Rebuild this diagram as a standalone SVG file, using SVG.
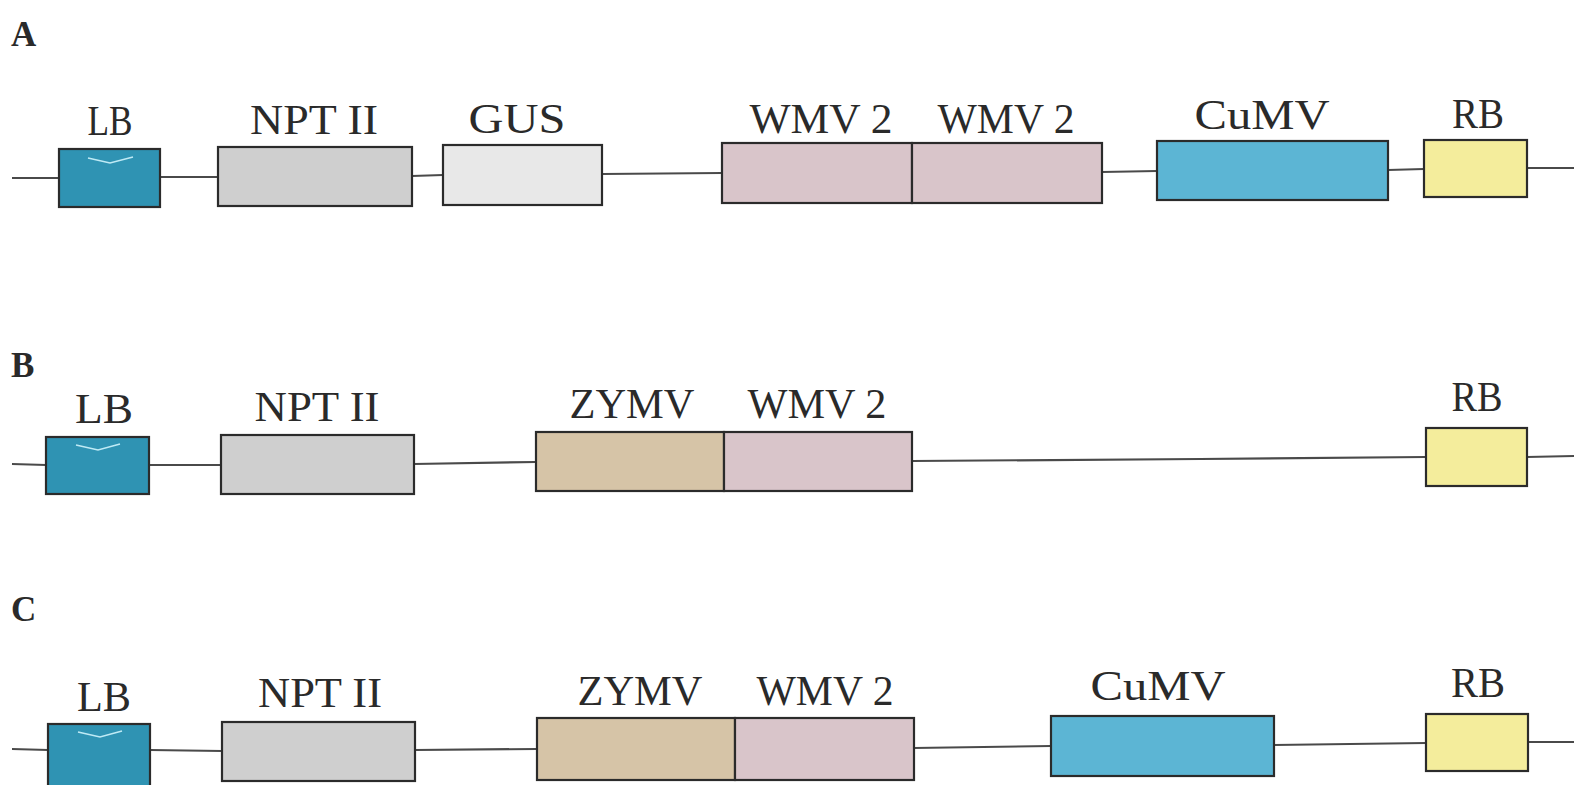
<svg xmlns="http://www.w3.org/2000/svg" width="1574" height="785" viewBox="0 0 1574 785">
<style>
.bg{fill:#ffffff}
.ln{fill:none;stroke:#4a4a4a;stroke-width:2.2}
.bx{stroke:#2b2b2b;stroke-width:2.2}
.lb{fill:#2f93b3}
.npt{fill:#cfcfcf}
.gus{fill:#e8e8e8}
.wmv{fill:#d9c5ca}
.zymv{fill:#d6c4a7}
.cumv{fill:#5cb5d4}
.rb{fill:#f4ed9c}
.mark{fill:none;stroke:#bfeaf5;stroke-width:1.6}
.t{font-family:"Liberation Serif","Times New Roman",serif;font-size:42px;fill:#2a2a2a;text-anchor:middle}
.h{font-family:"Liberation Serif","Times New Roman",serif;font-size:35px;font-weight:bold;fill:#2a2a2a}
</style>
<rect class="bg" x="0" y="0" width="1574" height="785"/>
<g id="connectors">
<polyline class="ln" points="12,178 59,178 160,177 218,177 412,176 443,175 602,174 722,173 1102,172 1157,171 1388,170 1424,169 1527,168 1574,168"/>
<polyline class="ln" points="12,464 46,465 149,465 221,465 414,464 536,462 912,461 1200,459 1426,457 1527,457 1574,456"/>
<polyline class="ln" points="12,749 48,750 150,750 222,751 415,750 537,749 914,748 1051,746 1274,745 1426,743 1528,742 1574,742"/>
</g>
<g id="label-A"><text class="h" x="11" y="46">A</text></g>
<g id="label-B"><text class="h" x="11" y="377">B</text></g>
<g id="label-C"><text class="h" x="11" y="621">C</text></g>
<g id="A-LB"><rect class="bx lb" x="59" y="149" width="101" height="58"/><path class="mark" d="M88,158 L110,163 L133,157"/><text class="t" x="110" y="135" textLength="45" lengthAdjust="spacingAndGlyphs">LB</text></g>
<g id="A-NPTII"><rect class="bx npt" x="218" y="147" width="194" height="59"/><text class="t" x="314" y="134" textLength="128" lengthAdjust="spacingAndGlyphs">NPT II</text></g>
<g id="A-GUS"><rect class="bx gus" x="443" y="145" width="159" height="60"/><text class="t" x="517" y="133" textLength="97" lengthAdjust="spacingAndGlyphs">GUS</text></g>
<g id="A-WMV2a"><rect class="bx wmv" x="722" y="143" width="190" height="60"/><text class="t" x="821" y="133" textLength="143" lengthAdjust="spacingAndGlyphs">WMV 2</text></g>
<g id="A-WMV2b"><rect class="bx wmv" x="912" y="143" width="190" height="60"/><text class="t" x="1006" y="133" textLength="137" lengthAdjust="spacingAndGlyphs">WMV 2</text></g>
<g id="A-CuMV"><rect class="bx cumv" x="1157" y="141" width="231" height="59"/><text class="t" x="1262" y="129" textLength="135" lengthAdjust="spacingAndGlyphs">CuMV</text></g>
<g id="A-RB"><rect class="bx rb" x="1424" y="140" width="103" height="57"/><text class="t" x="1478" y="128" textLength="52" lengthAdjust="spacingAndGlyphs">RB</text></g>

<g id="B-LB"><rect class="bx lb" x="46" y="437" width="103" height="57"/><path class="mark" d="M76,445 L98,450 L120,444"/><text class="t" x="104" y="423" textLength="58" lengthAdjust="spacingAndGlyphs">LB</text></g>
<g id="B-NPTII"><rect class="bx npt" x="221" y="435" width="193" height="59"/><text class="t" x="317" y="421" textLength="125" lengthAdjust="spacingAndGlyphs">NPT II</text></g>
<g id="B-ZYMV"><rect class="bx zymv" x="536" y="432" width="188" height="59"/><text class="t" x="632" y="418" textLength="125" lengthAdjust="spacingAndGlyphs">ZYMV</text></g>
<g id="B-WMV2"><rect class="bx wmv" x="724" y="432" width="188" height="59"/><text class="t" x="817" y="418" textLength="139" lengthAdjust="spacingAndGlyphs">WMV 2</text></g>
<g id="B-RB"><rect class="bx rb" x="1426" y="428" width="101" height="58"/><text class="t" x="1477" y="411" textLength="51" lengthAdjust="spacingAndGlyphs">RB</text></g>

<g id="C-LB"><rect class="bx lb" x="48" y="724" width="102" height="66"/><path class="mark" d="M78,732 L100,737 L122,731"/><text class="t" x="104" y="711" textLength="54" lengthAdjust="spacingAndGlyphs">LB</text></g>
<g id="C-NPTII"><rect class="bx npt" x="222" y="722" width="193" height="59"/><text class="t" x="320" y="707" textLength="124" lengthAdjust="spacingAndGlyphs">NPT II</text></g>
<g id="C-ZYMV"><rect class="bx zymv" x="537" y="718" width="198" height="62"/><text class="t" x="640" y="705" textLength="125" lengthAdjust="spacingAndGlyphs">ZYMV</text></g>
<g id="C-WMV2"><rect class="bx wmv" x="735" y="718" width="179" height="62"/><text class="t" x="825" y="705" textLength="137" lengthAdjust="spacingAndGlyphs">WMV 2</text></g>
<g id="C-CuMV"><rect class="bx cumv" x="1051" y="716" width="223" height="60"/><text class="t" x="1158" y="700" textLength="135" lengthAdjust="spacingAndGlyphs">CuMV</text></g>
<g id="C-RB"><rect class="bx rb" x="1426" y="714" width="102" height="57"/><text class="t" x="1478" y="697" textLength="54" lengthAdjust="spacingAndGlyphs">RB</text></g>
</svg>
